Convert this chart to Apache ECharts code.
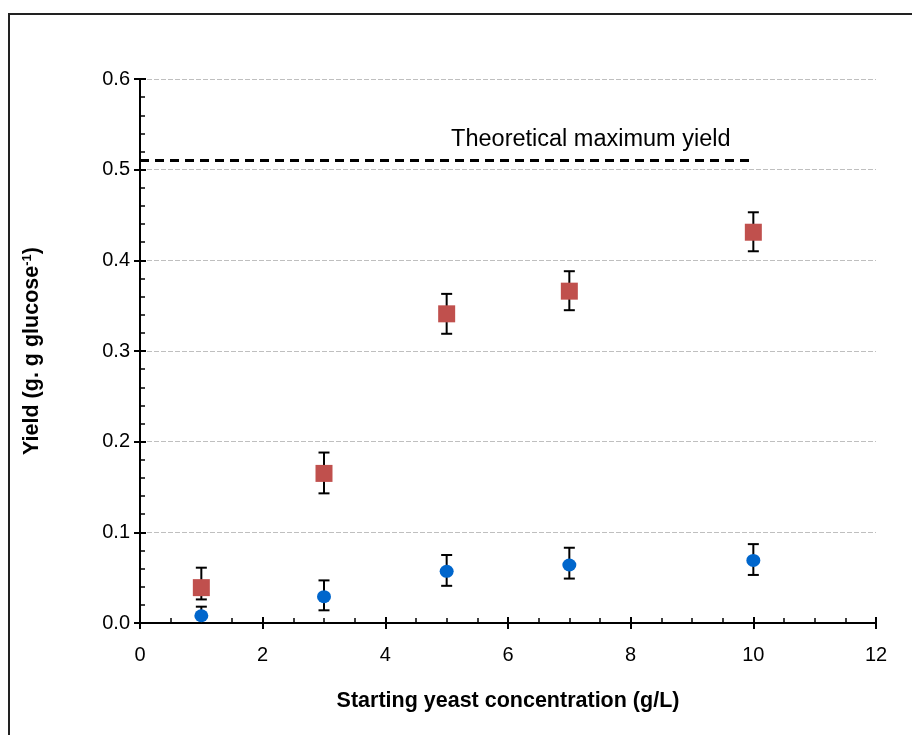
<!DOCTYPE html>
<html>
<head>
<meta charset="utf-8">
<script src="https://cdn.jsdelivr.net/npm/echarts@6/dist/echarts.min.js"></script>
<style>
  html, body { margin: 0; padding: 0; background: #fff; }
  #chart { width: 912px; height: 735px; }
</style>
</head>
<body>
<div id="chart"></div>
<script>
// Starting yeast concentrations (g/L)
const concentrations = [1, 3, 5, 7, 10];
// Yield (upper series, squares) with error-bar ends
const yieldSquare = [0.039, 0.165, 0.341, 0.366, 0.431];
const squareLow = [0.026, 0.143, 0.319, 0.345, 0.410];
const squareHigh = [0.061, 0.188, 0.363, 0.388, 0.453];
// Yield (lower series, circles) with error-bar ends
const yieldCircle = [0.008, 0.029, 0.057, 0.064, 0.069];
const circleLow = [0.000, 0.014, 0.041, 0.049, 0.053];
const circleHigh = [0.018, 0.047, 0.075, 0.083, 0.087];
// Theoretical maximum yield reference line
const theoreticalMax = 0.51;
const theoreticalSpan = [0, 10];
const theoreticalLabel = 'Theoretical maximum yield';
const theoreticalLabelX = 7.35;

const xTitle = 'Starting yeast concentration (g/L)';
const yTitle = 'Yield (g. g glucose{sup|-1})';

const FONT = '"Liberation Sans", Arial, sans-serif';

function errorData(xs, lows, highs) {
  return xs.map((x, i) => [x, lows[i], highs[i]]);
}

function renderError(params, api) {
  const x = api.value(0);
  const lo = api.coord([x, api.value(1)]);
  const hi = api.coord([x, api.value(2)]);
  const half = 5.5;
  const style = { stroke: '#000', lineWidth: 2 };
  return {
    type: 'group',
    children: [
      { type: 'line', shape: { x1: lo[0], y1: lo[1], x2: hi[0], y2: hi[1] }, style },
      { type: 'line', shape: { x1: lo[0] - half, y1: lo[1], x2: lo[0] + half, y2: lo[1] }, style },
      { type: 'line', shape: { x1: hi[0] - half, y1: hi[1], x2: hi[0] + half, y2: hi[1] }, style }
    ]
  };
}

// Text annotation drawn above the reference line, positioned through the axes
function renderAnnotation(params, api) {
  const p = api.coord([api.value(0), api.value(1)]);
  return {
    type: 'text',
    x: p[0], y: p[1] - 9,
    style: {
      text: theoreticalLabel,
      fill: '#000',
      font: '23.5px ' + FONT,
      align: 'center',
      verticalAlign: 'bottom'
    }
  };
}

const axisLine = { show: true, onZero: false, lineStyle: { color: '#000', width: 2 } };

const chart = echarts.init(document.getElementById('chart'), null, { renderer: 'canvas' });

chart.setOption({
  animation: false,
  backgroundColor: '#fff',
  graphic: [{
    type: 'rect',
    shape: { x: 9, y: 14, width: 1000, height: 1000 },
    style: { fill: 'none', stroke: '#222', lineWidth: 2 },
    z: 100
  }],
  grid: { left: 140, right: 36, top: 79, bottom: 112 },
  xAxis: [
    {
      type: 'value', min: 0, max: 12, interval: 2, position: 'bottom',
      axisLine,
      axisTick: { show: true, inside: false, length: 6, lineStyle: { color: '#000', width: 2 } },
      axisLabel: { margin: 22, fontFamily: FONT, fontSize: 20, color: '#000' },
      splitLine: { show: false },
      name: xTitle, nameLocation: 'middle', nameGap: 67,
      nameTextStyle: { fontFamily: FONT, fontSize: 21.5, fontWeight: 'bold', color: '#000' }
    },
    {
      type: 'value', min: 0, max: 12, interval: 2, position: 'bottom',
      axisLine,
      axisTick: { show: true, inside: true, length: 6, lineStyle: { color: '#000', width: 2 } },
      minorTick: { show: true, splitNumber: 4, length: 5, lineStyle: { color: '#000', width: 1.5 } },
      axisLabel: { show: false },
      splitLine: { show: false }
    }
  ],
  yAxis: [
    {
      type: 'value', min: 0, max: 0.6, interval: 0.1, position: 'left',
      axisLine,
      axisTick: { show: true, inside: false, length: 6, lineStyle: { color: '#000', width: 2 } },
      axisLabel: {
        margin: 10, fontFamily: FONT, fontSize: 20, color: '#000',
        formatter: v => v.toFixed(1)
      },
      splitLine: { show: true, lineStyle: { color: '#BFBFBF', type: [5, 2], width: 1 } },
      name: yTitle, nameLocation: 'middle', nameGap: 96, nameRotate: 90,
      nameTextStyle: {
        fontFamily: FONT, fontSize: 21.5, fontWeight: 'bold', color: '#000',
        rich: { sup: { fontFamily: FONT, fontSize: 13, fontWeight: 'bold', color: '#000', verticalAlign: 'top', padding: [0, 0, 10, 0] } }
      }
    },
    {
      type: 'value', min: 0, max: 0.6, interval: 0.1, position: 'left',
      axisLine,
      axisTick: { show: true, inside: true, length: 6, lineStyle: { color: '#000', width: 2 } },
      minorTick: { show: true, splitNumber: 5, length: 5, lineStyle: { color: '#000', width: 1.5 } },
      axisLabel: { show: false },
      splitLine: { show: false }
    }
  ],
  series: [
    {
      type: 'line',
      data: theoreticalSpan.map(x => [x, theoreticalMax]),
      symbol: 'none',
      lineStyle: { color: '#000', width: 3, type: [9, 6] },
      z: 3
    },
    {
      type: 'custom',
      data: [[theoreticalLabelX, theoreticalMax]],
      renderItem: renderAnnotation,
      encode: { x: 0, y: 1 },
      z: 3
    },
    {
      type: 'custom',
      data: errorData(concentrations, squareLow, squareHigh),
      renderItem: renderError,
      encode: { x: 0, y: [1, 2] },
      z: 4
    },
    {
      type: 'custom',
      data: errorData(concentrations, circleLow, circleHigh),
      renderItem: renderError,
      encode: { x: 0, y: [1, 2] },
      z: 4
    },
    {
      type: 'scatter',
      data: concentrations.map((x, i) => [x, yieldSquare[i]]),
      symbol: 'rect', symbolSize: 17,
      itemStyle: { color: '#C0504D', opacity: 1 },
      z: 6
    },
    {
      type: 'scatter',
      data: concentrations.map((x, i) => [x, yieldCircle[i]]),
      symbol: 'circle', symbolSize: [14, 13],
      itemStyle: { color: '#0066CC', opacity: 1 },
      z: 6
    }
  ]
});
</script>
</body>
</html>
